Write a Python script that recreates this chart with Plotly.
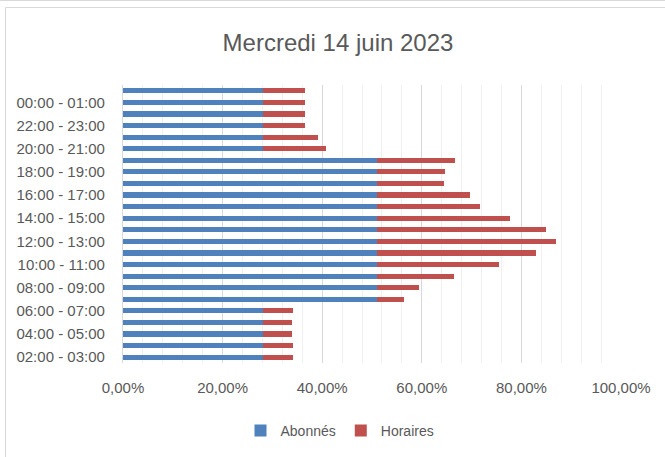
import plotly.graph_objects as go

categories = [
    "02:00 - 03:00", "03:00 - 04:00", "04:00 - 05:00", "05:00 - 06:00",
    "06:00 - 07:00", "07:00 - 08:00", "08:00 - 09:00", "09:00 - 10:00",
    "10:00 - 11:00", "11:00 - 12:00", "12:00 - 13:00", "13:00 - 14:00",
    "14:00 - 15:00", "15:00 - 16:00", "16:00 - 17:00", "17:00 - 18:00",
    "18:00 - 19:00", "19:00 - 20:00", "20:00 - 21:00", "21:00 - 22:00",
    "22:00 - 23:00", "23:00 - 00:00", "00:00 - 01:00", "01:00 - 02:00",
]

abonnes = [
    0.281, 0.281, 0.281, 0.281, 0.281,
    0.511, 0.511, 0.511, 0.511, 0.511, 0.511, 0.511, 0.511,
    0.511, 0.511, 0.511, 0.511, 0.511,
    0.281, 0.281, 0.281, 0.281, 0.281, 0.281,
]

horaires = [
    0.060, 0.060, 0.058, 0.058, 0.060,
    0.053, 0.084, 0.153, 0.245, 0.319, 0.358, 0.338, 0.267,
    0.205, 0.185, 0.134, 0.136, 0.155,
    0.127, 0.111, 0.084, 0.084, 0.084, 0.084,
]

x_ticks = [0, 0.2, 0.4, 0.6, 0.8, 1.0]
shown_labels = categories[::2]

FONT = "Liberation Sans"
GREY = "#595959"

fig = go.Figure()
fig.add_trace(go.Bar(
    y=categories, x=abonnes, name="Abonnés", orientation="h",
    marker=dict(color="#4F81BD", line=dict(width=0)),
))
fig.add_trace(go.Bar(
    y=categories, x=horaires, name="Horaires", orientation="h",
    marker=dict(color="#C0504D", line=dict(width=0)),
))

L, R, T, B = 123, 44, 85, 94
W, H = 665, 457
pw, ph = W - L - R, H - T - B

def px(x):
    return (x - L) / pw

def py(y):
    return (H - B - y) / ph

fig.update_layout(
    width=W, height=H,
    margin=dict(l=L, r=R, t=T, b=B, autoexpand=False),
    barmode="stack",
    bargap=0.56,
    plot_bgcolor="white",
    paper_bgcolor="white",
    separators=", ",
    font=dict(family=FONT, color=GREY, size=15),
    title=dict(
        text="Mercredi 14 juin 2023",
        font=dict(family=FONT, size=24, color=GREY),
        x=338 / W, xref="container", xanchor="center",
        y=1 - 43 / H, yref="container", yanchor="middle",
    ),
    legend=dict(
        orientation="h",
        x=px(340), xanchor="center",
        y=py(431), yanchor="middle",
        font=dict(family=FONT, size=14, color=GREY),
        itemwidth=30,
        tracegroupgap=0,
        traceorder="normal",
    ),
    xaxis=dict(
        range=[0, 1.0],
        tickvals=x_ticks,
        tickformat=".2%",
        showgrid=True, gridcolor="#d9d9d9", gridwidth=1.3,
        minor=dict(dtick=0.04, showgrid=True, gridcolor="#f0f0f0", gridwidth=1),
        zeroline=False,
        showline=False,
        ticks="",
        ticklabelstandoff=14,
        tickfont=dict(family=FONT, size=15, color=GREY),
        fixedrange=True,
    ),
    yaxis=dict(
        type="category",
        categoryorder="array", categoryarray=categories,
        tickvals=shown_labels,
        ticktext=shown_labels,
        showgrid=False,
        showline=True, linecolor="#d9d9d9", linewidth=1.3,
        ticks="",
        ticklabelstandoff=14,
        tickfont=dict(family=FONT, size=15, color=GREY),
        range=[-0.5, len(categories) - 0.5],
        fixedrange=True,
    ),
    shapes=[
        dict(type="line", xref="paper", yref="paper",
             x0=px(0), x1=px(W), y0=py(0.5), y1=py(0.5),
             line=dict(color="#d9d9d9", width=1)),
        dict(type="line", xref="paper", yref="paper",
             x0=px(5.5), x1=px(W), y0=py(7.5), y1=py(7.5),
             line=dict(color="#d9d9d9", width=1)),
        dict(type="line", xref="paper", yref="paper",
             x0=px(5.5), x1=px(5.5), y0=py(7.5), y1=py(H),
             line=dict(color="#d9d9d9", width=1)),
    ],
)

fig.write_html(
    "out.html",
    config={"displayModeBar": False},
    post_script="document.body.style.margin='0px';document.body.style.overflow='hidden';",
)
